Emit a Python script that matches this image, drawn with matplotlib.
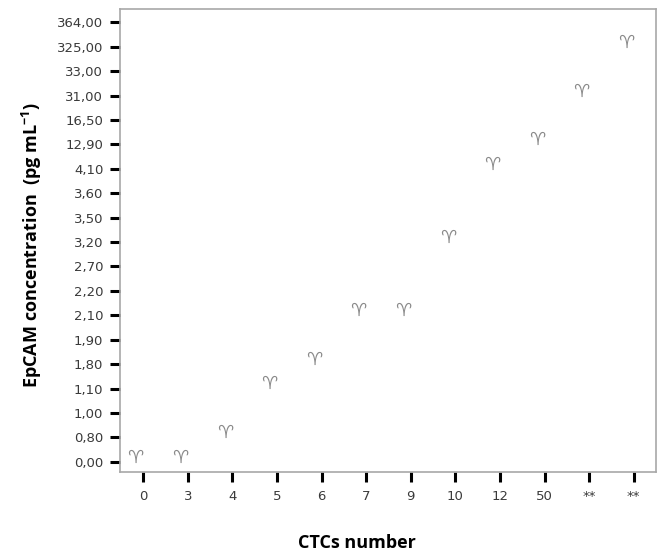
import matplotlib.pyplot as plt

# カテゴリ (SPSS風の順序軸)
ctc_labels = ["0", "3", "4", "5", "6", "7", "9", "10", "12", "50", "**", "**"]
epcam_labels = ["0,00", "0,80", "1,00", "1,10", "1,80", "1,90", "2,10", "2,20",
                "2,70", "3,20", "3,50", "3,60", "4,10", "12,90", "16,50",
                "31,00", "33,00", "325,00", "364,00"]

# 各点: x カテゴリ番号, y の値
point_x = [0, 1, 2, 3, 4, 5, 6, 7, 8, 9, 10, 11]
point_y = ["0,00", "0,00", "0,80", "1,10", "1,80", "2,10", "2,10", "3,20",
           "4,10", "12,90", "31,00", "325,00"]

plt.rcParams['font.family'] = ['DejaVu Sans']

fig = plt.figure(figsize=(6.62, 5.53), dpi=100)
ax = fig.add_axes([120 / 662, 1 - 472 / 553, 536 / 662, 463 / 553])

y_idx = [epcam_labels.index(v) for v in point_y]
for xi, yi in zip(point_x, y_idx):
    ax.annotate("\u2648", (xi, yi), xytext=(-5.5, 3), textcoords="offset points",
                ha="center", va="center", fontsize=13, color="#8a8a8a",
                family=["DejaVu Sans"])

ax.set_xlim(-0.52, 11.5)
ax.set_ylim(-0.42, 18.55)
ax.set_xticks(range(len(ctc_labels)))
ax.set_xticklabels(ctc_labels)
ax.set_yticks(range(len(epcam_labels)))
ax.set_yticklabels(epcam_labels)

ax.tick_params(axis="both", direction="out", length=7, width=2.2, color="black",
               labelsize=9.5, labelcolor="#3a3a3a")
ax.tick_params(axis="x", pad=6)
ax.tick_params(axis="y", pad=5)

for s in ax.spines.values():
    s.set_color("#a8a8a8")
    s.set_linewidth(1.2)

fig.text(357 / 662, 1 - 543 / 553, "CTCs number", ha="center", va="center",
         fontsize=13, fontweight="bold", family=["Open Sans", "DejaVu Sans"])
fig.text(32 / 662, 1 - 245 / 553, "EpCAM concentration  (pg mL$^{\\mathregular{-1}}$)",
         ha="center", va="center", rotation=90, fontsize=13, fontweight="bold",
         family=["Open Sans", "DejaVu Sans"])

plt.savefig("out.png", dpi=100)
